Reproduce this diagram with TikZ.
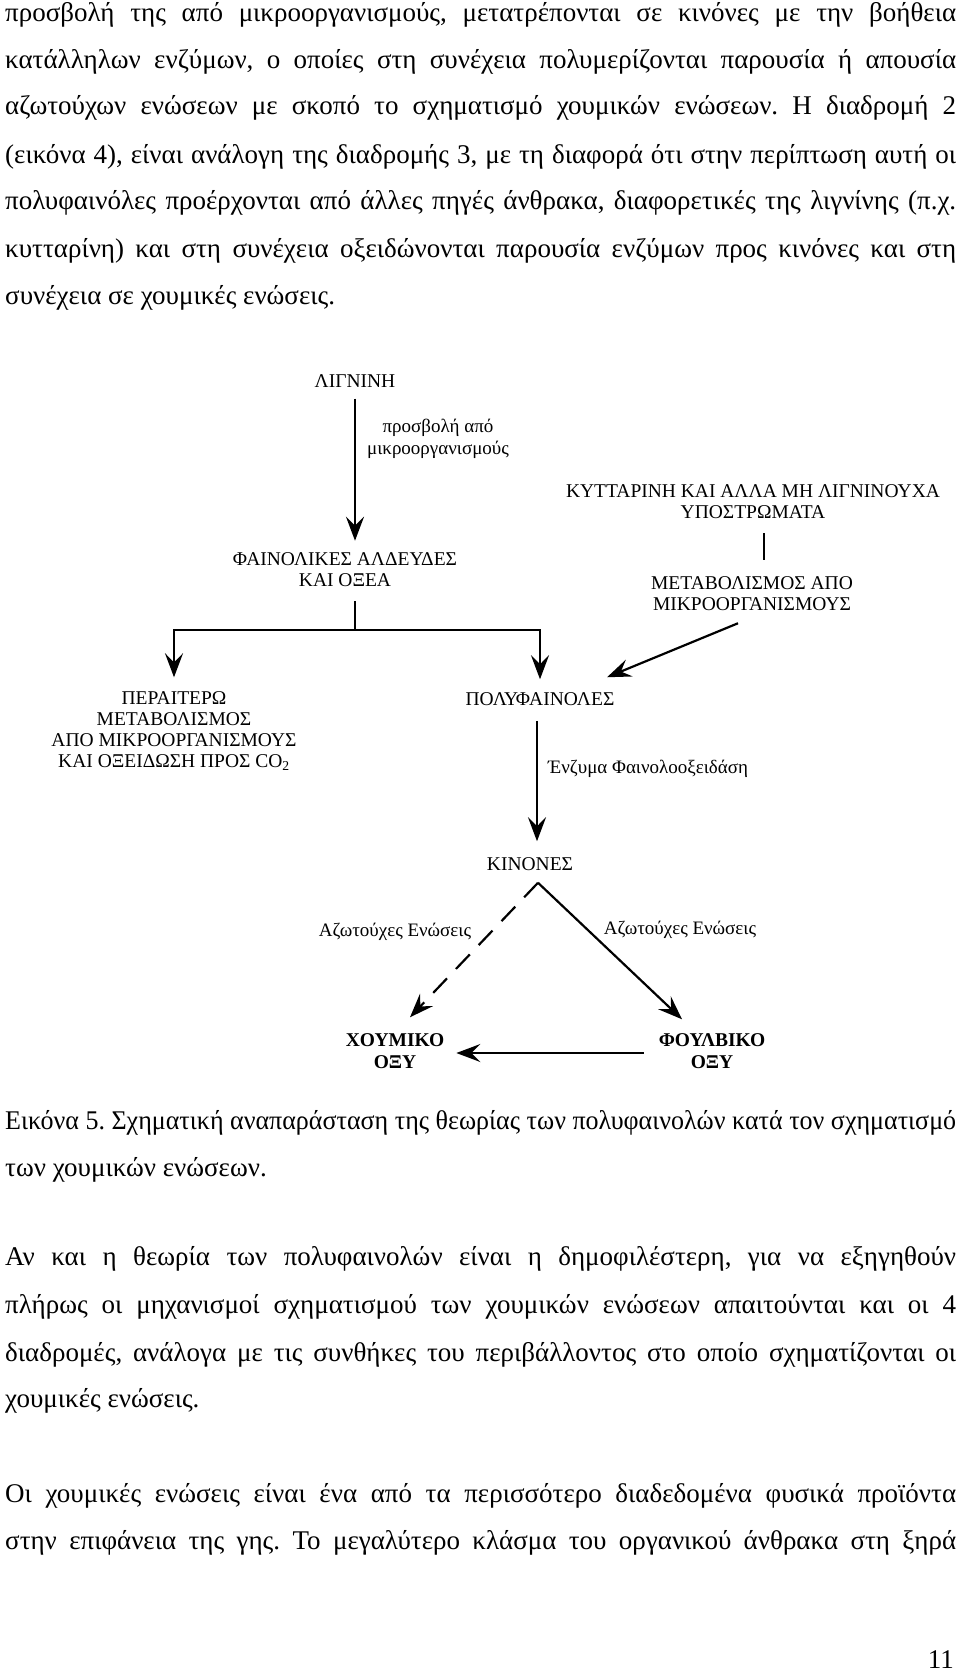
\documentclass[tikz,border=0pt]{standalone}
\usepackage{graphicx}
\usepackage{fontspec}
\setmainfont{Liberation Serif}
\usetikzlibrary{arrows.meta}
\newsavebox{\jlinebox}
\newcommand{\justline}[1]{\sbox{\jlinebox}{#1}%
  \ifdim\wd\jlinebox>951pt \resizebox{951pt}{\ht\jlinebox}{\usebox{\jlinebox}}%
  \else\hbox to 951pt{#1}\fi}
\frenchspacing
\begin{document}
\begin{tikzpicture}[x=1pt,y=-1pt,
  body/.style={anchor=mid west, inner sep=0pt, font=\fontsize{27}{30}\selectfont\frenchspacing},
  lab/.style={inner sep=0pt, align=center, font=\fontsize{19.5}{21}\selectfont},
  lbl/.style={inner sep=0pt, align=center, font=\fontsize{19}{22.5}\selectfont},
  boldlab/.style={lab, font=\fontsize{19.5}{22}\selectfont\bfseries},
  conn/.style={line width=2.2pt},
  arr/.style={conn, -{Stealth[length=24pt,width=18pt,inset=9pt]}},
  dsh/.style={arr, dash pattern=on 20pt off 13pt}]
\useasboundingbox[fill=white] (0,0) rectangle (960,1678);

% ---- body text ----
\node[body] (t1) at (5,19)  {\justline{προσβολή της από μικροοργανισμούς, μετατρέπονται σε κινόνες με την βοήθεια}};
\node[body] (t2) at (5,66)  {\justline{κατάλληλων ενζύμων, ο οποίες στη συνέχεια πολυμερίζονται παρουσία ή απουσία}};
\node[body] (t3) at (5,112) {\justline{αζωτούχων ενώσεων με σκοπό το σχηματισμό χουμικών ενώσεων. Η διαδρομή 2}};
\node[body] (t4) at (5,161) {\justline{(εικόνα 4), είναι ανάλογη της διαδρομής 3, με τη διαφορά ότι στην περίπτωση αυτή οι}};
\node[body] (t5) at (5,207) {\justline{πολυφαινόλες προέρχονται από άλλες πηγές άνθρακα, διαφορετικές της λιγνίνης (π.χ.}};
\node[body] (t6) at (5,255) {\justline{κυτταρίνη) και στη συνέχεια οξειδώνονται παρουσία ενζύμων προς κινόνες και στη}};
\node[body] (t7) at (5,302) {συνέχεια σε χουμικές ενώσεις.};

\node[body] (c1) at (5,1127) {\justline{Εικόνα 5. Σχηματική αναπαράσταση της θεωρίας των πολυφαινολών κατά τον σχηματισμό}};
\node[body] (c2) at (5,1174) {των χουμικών ενώσεων.};

\node[body] (p1) at (5,1263) {\justline{Αν και η θεωρία των πολυφαινολών είναι η δημοφιλέστερη, για να εξηγηθούν}};
\node[body] (p2) at (5,1311) {\justline{πλήρως οι μηχανισμοί σχηματισμού των χουμικών ενώσεων απαιτούνται και οι 4}};
\node[body] (p3) at (5,1359) {\justline{διαδρομές, ανάλογα με τις συνθήκες του περιβάλλοντος στο οποίο σχηματίζονται οι}};
\node[body] (p4) at (5,1405) {χουμικές ενώσεις.};

\node[body] (q1) at (5,1500) {\justline{Οι χουμικές ενώσεις είναι ένα από τα περισσότερο διαδεδομένα φυσικά προϊόντα}};
\node[body] (q2) at (5,1547) {\justline{στην επιφάνεια της γης. Το μεγαλύτερο κλάσμα του οργανικού άνθρακα στη ξηρά}};

\node[body, anchor=mid east] (pg) at (954,1666) {11};

% ---- diagram ----
\node[lab] (lig) at (355,381) {ΛΙΓΝΙΝΗ};
\node[lbl] (att) at (438,439) {προσβολή από\\μικροοργανισμούς};
\node[lab] (fain) at (345,570) {ΦΑΙΝΟΛΙΚΕΣ ΑΛΔΕΥΔΕΣ\\ΚΑΙ ΟΞΕΑ};
\node[lab] (kyt) at (753,502) {ΚΥΤΤΑΡΙΝΗ ΚΑΙ ΑΛΛΑ ΜΗ ΛΙΓΝΙΝΟΥΧΑ\\ΥΠΟΣΤΡΩΜΑΤΑ};
\node[lab] (met) at (752,594) {ΜΕΤΑΒΟΛΙΣΜΟΣ ΑΠΟ\\ΜΙΚΡΟΟΡΓΑΝΙΣΜΟΥΣ};
\node[lab] (per) at (174,731) {ΠΕΡΑΙΤΕΡΩ\\ΜΕΤΑΒΟΛΙΣΜΟΣ\\ΑΠΟ ΜΙΚΡΟΟΡΓΑΝΙΣΜΟΥΣ\\ΚΑΙ ΟΞΕΙΔΩΣΗ ΠΡΟΣ CO\textsubscript{2}};
\node[lab] (pol) at (540,699) {ΠΟΛΥΦΑΙΝΟΛΕΣ};
\node[lbl, anchor=west] (enz) at (548,769) {Ένζυμα Φαινολοοξειδάση};
\node[lab] (kin) at (530,864) {ΚΙΝΟΝΕΣ};
\node[lbl] (az1) at (395,932) {Αζωτούχες Ενώσεις};
\node[lbl] (az2) at (680,930) {Αζωτούχες Ενώσεις};
\node[boldlab] (hum) at (395,1051) {ΧΟΥΜΙΚΟ\\ΟΞΥ};
\node[boldlab] (ful) at (712,1051) {ΦΟΥΛΒΙΚΟ\\ΟΞΥ};

\coordinate (split) at (355,630);

\draw[arr, shorten <=11pt, shorten >=12pt] (lig.south) -- (lig.south |- fain.north);
\draw[conn, shorten <=14pt] (fain.south -| split) -- (split);
\draw[arr, shorten >=14pt] (split) -| (per.north);
\draw[arr, shorten >=13pt] (split) -| (pol.north);
\draw[conn, shorten <=14pt, shorten >=17pt] ([xshift=11pt]kyt.south) -- ([xshift=11pt]kyt.south |- met.north);
\draw[arr] ([xshift=-14pt,yshift=-12pt]met.south) -- ([xshift=67pt,yshift=15pt]pol.north);
\draw[arr, shorten <=15pt, shorten >=16pt] ([xshift=-3pt]pol.south) -- ([xshift=-3pt]pol.south |- kin.north);
\draw[dsh] ([xshift=8pt,yshift=-12pt]kin.south) -- ([xshift=15pt,yshift=16pt]hum.north);
\draw[arr] ([xshift=8pt,yshift=-12pt]kin.south) -- ([xshift=-30pt,yshift=14pt]ful.north);
\draw[arr] ([xshift=-15pt,yshift=-2pt]ful.west) -- ([xshift=12pt,yshift=-2pt]hum.east);
\end{tikzpicture}
\end{document}
